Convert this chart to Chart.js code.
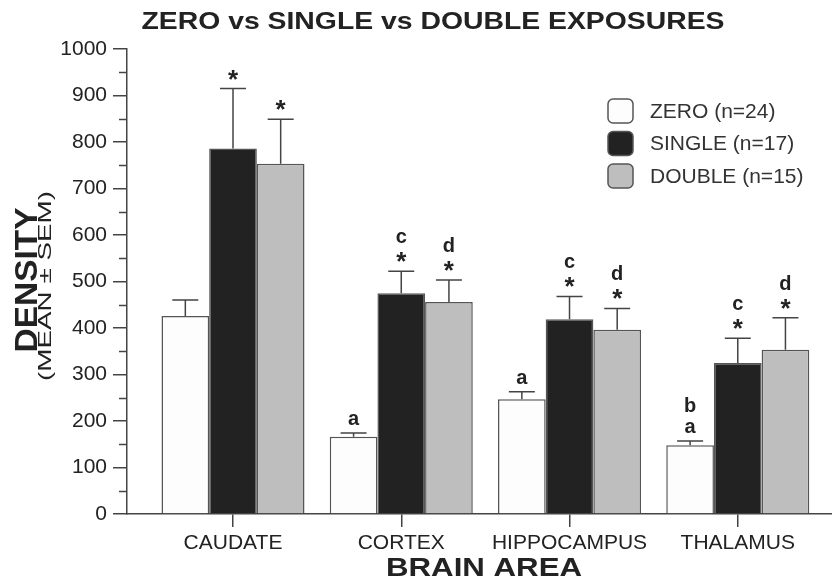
<!DOCTYPE html>
<html>
<head>
<meta charset="utf-8">
<title>Zero vs Single vs Double Exposures</title>
<script src="https://cdn.jsdelivr.net/npm/chart.js@4/dist/chart.umd.min.js"></script>
<style>
  html, body { margin:0; padding:0; background:#fff; }
  #wrap { width:832px; height:581px; }
</style>
</head>
<body>
<div id="wrap"><canvas id="densityChart" width="832" height="581"></canvas></div>
<script>
/* ── data ── */
const categories  = ['CAUDATE', 'CORTEX', 'HIPPOCAMPUS', 'THALAMUS'];
const zeroMean    = [426, 166, 247, 148];
const zeroSem     = [34, 8, 16, 9];
const singleMean  = [786, 475, 419, 325];
const singleSem   = [129, 47, 49, 53];
const doubleMean  = [753, 456, 396, 353];
const doubleSem   = [96, 47, 46, 69];
const zeroMarks   = [[], ['a'], ['a'], ['a', 'b']];
const singleMarks = [['*'], ['*', 'c'], ['*', 'c'], ['*', 'c']];
const doubleMarks = [['*'], ['*', 'd'], ['*', 'd'], ['*', 'd']];
const seriesNames = ['ZERO (n=24)', 'SINGLE (n=17)', 'DOUBLE (n=15)'];

const FONT = '"Liberation Sans", Arial, Helvetica, sans-serif';
const INK  = '#222';
const LINE = '#444';

Chart.defaults.font.family = FONT;
Chart.defaults.color = INK;

function toPoints(arr) { return arr.map((v, i) => ({ x: i, y: v })); }

function mkSet(label, means, sems, marks, fill) {
  return {
    label, data: toPoints(means), sem: sems, marks,
    backgroundColor: fill, borderColor: '#555', borderWidth: 1.5,
    categoryPercentage: 0.85, barPercentage: 1
  };
}

/* text drawn centred on its ink box, squeezed/stretched to a given length */
function fitText(ctx, text, cx, cy, font, len, opts = {}) {
  ctx.save();
  ctx.font = font;
  ctx.fillStyle = opts.color || INK;
  const m = ctx.measureText(text);
  const sx = len ? len / m.width : 1;
  ctx.translate(cx, cy);
  if (opts.rotate) ctx.rotate(-Math.PI / 2);
  ctx.scale(sx, 1);
  ctx.textAlign = opts.align || 'center';
  ctx.textBaseline = 'alphabetic';
  ctx.fillText(text, 0, (m.actualBoundingBoxAscent - m.actualBoundingBoxDescent) / 2);
  ctx.restore();
}

/* ── error bars, significance marks, minor ticks, titles, legend ── */
const decorations = {
  id: 'decorations',
  afterDatasetsDraw(chart) {
    const ctx = chart.ctx, y = chart.scales.y;
    chart.data.datasets.forEach((ds, di) => {
      const meta = chart.getDatasetMeta(di);
      meta.data.forEach((bar, j) => {
        const capY = y.getPixelForValue(ds.data[j].y + ds.sem[j]);
        ctx.save();
        ctx.strokeStyle = LINE; ctx.lineWidth = 1.5;
        ctx.beginPath();
        ctx.moveTo(bar.x, bar.y); ctx.lineTo(bar.x, capY);
        ctx.moveTo(bar.x - 13, capY); ctx.lineTo(bar.x + 13, capY);
        ctx.stroke();
        ctx.restore();

        // marks stacked above the cap, bottom first
        let cur = capY, first = true;
        ds.marks[j].forEach(mk => {
          if (mk === '*') {
            fitText(ctx, '*', bar.x, cur - 14, 'bold 26px ' + FONT);
            cur = cur - 28;
          } else {
            const base = first ? cur - 8 : cur;
            ctx.save();
            ctx.font = 'bold 20px ' + FONT;
            ctx.fillStyle = INK; ctx.textAlign = 'center'; ctx.textBaseline = 'alphabetic';
            ctx.fillText(mk, bar.x, base);
            ctx.restore();
            cur = base - 21;
          }
          first = false;
        });
      });
    });
  },
  afterDraw(chart) {
    const ctx = chart.ctx, y = chart.scales.y, area = chart.chartArea;
    // minor ticks every 50
    ctx.save();
    ctx.strokeStyle = LINE; ctx.lineWidth = 1.5;
    ctx.beginPath();
    for (let v = 50; v < 1000; v += 100) {
      const py = Math.round(y.getPixelForValue(v)) + 0.5;
      ctx.moveTo(area.left - 8, py); ctx.lineTo(area.left, py);
    }
    ctx.stroke();
    ctx.restore();

    // titles
    fitText(ctx, 'ZERO vs SINGLE vs DOUBLE EXPOSURES', 433, 20, 'bold 24px ' + FONT, 583);
    fitText(ctx, 'BRAIN AREA', 484, 567, 'bold 26px ' + FONT, 196);
    fitText(ctx, 'DENSITY', 26, 280, 'bold 31px ' + FONT, 145, { rotate: true });
    fitText(ctx, '(MEAN \u00B1 SEM)', 46, 286, '18px ' + FONT, 190, { rotate: true });

    // legend
    chart.data.datasets.forEach((ds, i) => {
      const cy = 111 + i * 32.5;
      ctx.save();
      ctx.beginPath();
      ctx.roundRect(608, cy - 12, 25, 24, 5);
      ctx.fillStyle = ds.backgroundColor; ctx.fill();
      ctx.strokeStyle = '#555'; ctx.lineWidth = 1.5; ctx.stroke();
      ctx.restore();
      ctx.save();
      ctx.font = '21px ' + FONT;
      ctx.fillStyle = '#333'; ctx.textAlign = 'left'; ctx.textBaseline = 'middle';
      ctx.fillText(ds.label, 650, cy + 1);
      ctx.restore();
    });
  }
};

new Chart(document.getElementById('densityChart'), {
  type: 'bar',
  data: {
    datasets: [
      mkSet(seriesNames[0], zeroMean, zeroSem, zeroMarks, '#fdfdfd'),
      mkSet(seriesNames[1], singleMean, singleSem, singleMarks, '#222222'),
      mkSet(seriesNames[2], doubleMean, doubleSem, doubleMarks, '#bebebe')
    ]
  },
  options: {
    responsive: false,
    animation: false,
    layout: { padding: { top: 49, right: 0, bottom: 0, left: 0 } },
    plugins: { legend: { display: false }, tooltip: { enabled: false }, title: { display: false } },
    scales: {
      x: {
        type: 'linear', min: -0.63, max: 3.56, offset: false,
        afterBuildTicks: s => { s.ticks = categories.map((c, i) => ({ value: i })); },
        afterFit: s => { s.height = 67; },
        ticks: { callback: v => categories[v], font: { size: 21 }, color: INK, padding: 4, maxRotation: 0, autoSkip: false },
        grid: { offset: false, drawOnChartArea: false, drawTicks: true, tickLength: 13, color: LINE, lineWidth: 1.5 },
        border: { color: LINE, width: 1.5 }
      },
      y: {
        min: 0, max: 1000,
        afterFit: s => { s.width = 127; },
        ticks: { stepSize: 100, font: { size: 21 }, color: INK, padding: 6, callback: v => String(v) },
        grid: { drawOnChartArea: false, drawTicks: true, tickLength: 14, color: LINE, lineWidth: 1.5 },
        border: { color: LINE, width: 1.5 }
      }
    }
  },
  plugins: [decorations]
});
</script>
</body>
</html>
